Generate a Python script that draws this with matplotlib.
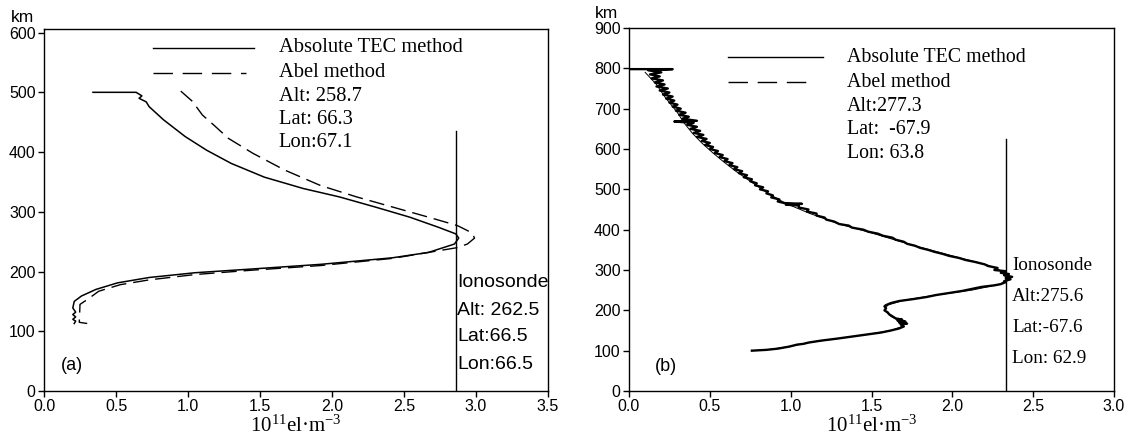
import matplotlib
matplotlib.use("Agg")
import matplotlib.pyplot as plt

plt.rcParams['mathtext.fontset'] = 'custom'
plt.rcParams['mathtext.rm'] = 'Liberation Serif'
plt.rcParams['mathtext.it'] = 'Liberation Serif:italic'

# ---------------- Panel (a) data ----------------
a_tec_x = [0.34, 0.64, 0.68, 0.66, 0.71, 0.73, 0.83, 0.98, 1.13, 1.30, 1.53, 1.80, 2.05, 2.30, 2.54, 2.74, 2.86, 2.88,
           2.85, 2.67, 2.42, 1.92, 1.43, 1.05, 0.73, 0.51, 0.36, 0.26, 0.21, 0.20, 0.22, 0.20, 0.22, 0.20, 0.22, 0.21]
a_tec_y = [500, 500, 494, 490, 484, 476, 454, 426, 403, 381, 358, 339, 325, 308, 291, 274, 263, 256,
           246, 232, 223, 212, 204, 198, 190, 181, 170, 159, 150, 139, 132, 128, 124, 120, 117, 113]
a_abel_x = [0.95, 1.03, 1.10, 1.18, 1.28, 1.45, 1.67, 1.92, 2.17, 2.42, 2.67, 2.87, 2.97, 2.99, 2.94, 2.87,
            2.67, 2.42, 1.92, 1.43, 1.05, 0.73, 0.53, 0.38, 0.30, 0.25, 0.245, 0.30]
a_abel_y = [502, 485, 462, 445, 423, 398, 370, 344, 325, 308, 291, 277, 265, 256, 246, 240,
            232, 222, 210, 202, 195, 186, 178, 167, 153, 145, 115, 113]
a_iono_x = 2.86
a_iono_top = 435
a_texts = ["Alt: 258.7", "Lat: 66.3", "Lon:67.1"]
a_iono_texts = ["Ionosonde", "Alt: 262.5", "Lat:66.5", "Lon:66.5"]

# ---------------- Panel (b) data ----------------
b_tec_y = [798, 798, 795, 790, 785, 780, 775, 770, 765, 760, 755, 750, 745, 740, 735, 730, 725, 720,
           715, 710, 705, 700, 695, 690, 685, 680, 675, 670, 668, 665, 660, 655, 650, 645, 640, 635,
           630, 625, 620, 615, 610, 605,
           600, 595, 590, 585, 580, 575, 570, 565, 560, 555, 550, 545, 540, 535, 530, 525, 520, 515,
           510, 505, 500, 495, 490, 485, 480, 475, 470, 466, 464, 462, 460, 455, 450, 445, 440, 435,
           430, 425, 420, 414, 410, 405, 400, 395, 390, 385, 380, 375, 370, 365, 360, 355, 350, 345,
           340, 335, 330, 325, 320, 314, 310, 305,
           300, 297, 293, 290, 287, 283, 280, 277, 272, 270, 265, 262, 258, 253, 248, 243, 238, 233,
           228, 223, 218, 213, 210, 205, 200, 195, 190, 185, 180, 177, 175, 172, 170, 167, 165, 160,
           155, 150, 145, 140, 135, 130, 125, 120, 117, 115, 110, 105, 102, 100]
b_tec_x = [0.01, 0.27, 0.12, 0.20, 0.13, 0.19, 0.14, 0.21, 0.16, 0.22, 0.17, 0.24, 0.19, 0.25, 0.21, 0.27, 0.23, 0.28,
           0.25, 0.30, 0.27, 0.32, 0.29, 0.35, 0.31, 0.37, 0.33, 0.42, 0.28, 0.40, 0.36, 0.42, 0.38, 0.44, 0.40, 0.46,
           0.42, 0.48, 0.45, 0.50, 0.47, 0.52,
           0.50, 0.55, 0.53, 0.58, 0.56, 0.61, 0.59, 0.64, 0.62, 0.67, 0.65, 0.70, 0.68, 0.73, 0.71, 0.76, 0.75, 0.79,
           0.78, 0.83, 0.81, 0.86, 0.85, 0.89, 0.88, 0.93, 0.92, 0.96, 1.07, 0.97, 1.05, 1.05, 1.11, 1.10, 1.16, 1.16,
           1.21, 1.22, 1.27, 1.30, 1.36, 1.38, 1.45, 1.48, 1.54, 1.57, 1.63, 1.65, 1.70, 1.72, 1.77, 1.80, 1.85, 1.89,
           1.94, 1.98, 2.04, 2.08, 2.14, 2.20, 2.22, 2.28,
           2.26, 2.33, 2.30, 2.35, 2.32, 2.37, 2.33, 2.36, 2.32, 2.33, 2.30, 2.26, 2.18, 2.12, 2.06, 1.98, 1.90, 1.84,
           1.76, 1.67, 1.62, 1.59, 1.58, 1.59, 1.58, 1.60, 1.61, 1.63, 1.65, 1.69, 1.66, 1.71, 1.67, 1.72, 1.68, 1.70,
           1.67, 1.62, 1.56, 1.47, 1.38, 1.29, 1.19, 1.11, 1.08, 1.04, 0.99, 0.92, 0.85, 0.76]
b_abel_x = [0.10, 0.17, 0.22, 0.26, 0.30, 0.34, 0.39, 0.45, 0.52, 0.58, 0.66, 0.75, 0.86, 0.97, 1.12, 1.30,
            1.50, 1.75, 2.00, 2.22, 2.32, 2.34, 2.30, 2.12, 1.90, 1.70, 1.60, 1.58, 1.62, 1.68, 1.69, 1.62,
            1.47, 1.29, 1.11, 0.99, 0.85, 0.76]
b_abel_y = [790, 760, 730, 710, 690, 665, 640, 615, 590, 570, 545, 520, 490, 465, 440, 414,
            392, 362, 335, 312, 295, 280, 265, 250, 238, 225, 213, 200, 185, 172, 160, 150,
            140, 130, 120, 110, 102, 100]
b_iono_x = 2.33
b_iono_top = 626
b_texts = ["Alt:277.3", "Lat:  -67.9", "Lon: 63.8"]
b_iono_texts = ["Ionosonde", "Alt:275.6", "Lat:-67.6", "Lon: 62.9"]

legend_labels = ["Absolute TEC method", "Abel method"]
xlabel = "10$^{11}$el·m$^{-3}$"

W, H = 1137, 443
fig = plt.figure(figsize=(W / 100, H / 100), dpi=100)

SANS = 'Liberation Sans'
SERIF = 'Liberation Serif'
DASH = (0, (11, 5))


def style_axes(ax):
    for s in ax.spines.values():
        s.set_linewidth(1.0)
        s.set_color('black')
    ax.tick_params(axis='both', direction='out', length=4, width=1, top=False, right=False,
                   labelsize=11.5, pad=2)
    for lab in ax.get_xticklabels() + ax.get_yticklabels():
        lab.set_fontfamily(SANS)
    ax.set_xlabel(xlabel, fontsize=15, fontfamily=SERIF, labelpad=1)


# ---- Panel (a)
ax1 = fig.add_axes([44 / W, 1 - 391 / H, 504 / W, 362 / H])
ax1.plot(a_tec_x, a_tec_y, color='black', lw=1.1)
ax1.plot(a_abel_x, a_abel_y, color='black', lw=1.0, linestyle=DASH)
ax1.plot([a_iono_x, a_iono_x], [0, a_iono_top], color='black', lw=1.0)
ax1.set_xlim(0, 3.5)
ax1.set_ylim(0, 606)
ax1.set_xticks([0.0, 0.5, 1.0, 1.5, 2.0, 2.5, 3.0, 3.5])
ax1.set_xticklabels(["0.0", "0.5", "1.0", "1.5", "2.0", "2.5", "3.0", "3.5"])
ax1.set_yticks([0, 100, 200, 300, 400, 500, 600])
style_axes(ax1)
# legend
ax1.plot([0.76, 1.46], [575, 575], color='black', lw=1.0)
ax1.plot([0.76, 1.40], [533, 533], color='black', lw=1.0, linestyle=(0, (14, 7)))
ax1.text(1.63, 575, legend_labels[0], fontsize=14.8, fontfamily=SERIF, va='center', ha='left')
ax1.text(1.63, 533, legend_labels[1], fontsize=14.8, fontfamily=SERIF, va='center', ha='left')
for t, y in zip(a_texts, [493, 455, 416]):
    ax1.text(1.63, y, t, fontsize=14.8, fontfamily=SERIF, va='center', ha='left')
for t, y in zip(a_iono_texts, [181, 134, 91, 45]):
    ax1.text(2.87, y, t, fontsize=14, fontfamily=SANS, va='center', ha='left')
ax1.text(0.12, 43, "(a)", fontsize=13, fontfamily=SANS, va='center', ha='left')
fig.text(22 / W, 1 - 18 / H, "km", fontsize=12.5, fontfamily=SANS, ha='center', va='center')

# ---- Panel (b)
ax2 = fig.add_axes([629 / W, 1 - 391 / H, 485 / W, 363 / H])
ax2.plot(b_abel_x, b_abel_y, color='black', lw=0.7)
ax2.plot(b_tec_x, b_tec_y, color='black', lw=1.7)
ax2.plot([b_iono_x, b_iono_x], [0, b_iono_top], color='black', lw=1.0)
ax2.set_xlim(0, 3.0)
ax2.set_ylim(0, 900)
ax2.set_xticks([0.0, 0.5, 1.0, 1.5, 2.0, 2.5, 3.0])
ax2.set_xticklabels(["0.0", "0.5", "1.0", "1.5", "2.0", "2.5", "3.0"])
ax2.set_yticks([0, 100, 200, 300, 400, 500, 600, 700, 800, 900])
style_axes(ax2)
ax2.plot([0.61, 1.20], [827, 827], color='black', lw=1.0)
ax2.plot([0.61, 1.15], [765, 765], color='black', lw=1.0, linestyle=(0, (14, 7)))
ax2.text(1.35, 827, legend_labels[0], fontsize=14.3, fontfamily=SERIF, va='center', ha='left')
ax2.text(1.35, 765, legend_labels[1], fontsize=14.3, fontfamily=SERIF, va='center', ha='left')
for t, y in zip(b_texts, [705, 648, 590]):
    ax2.text(1.35, y, t, fontsize=14.3, fontfamily=SERIF, va='center', ha='left')
for t, y in zip(b_iono_texts, [312, 235, 158, 80]):
    ax2.text(2.37, y, t, fontsize=13.8, fontfamily=SERIF, va='center', ha='left')
ax2.text(0.16, 61, "(b)", fontsize=13, fontfamily=SANS, va='center', ha='left')
fig.text(606 / W, 1 - 13 / H, "km", fontsize=12.5, fontfamily=SANS, ha='center', va='center')

fig.savefig("out.png", dpi=100, facecolor='white')
